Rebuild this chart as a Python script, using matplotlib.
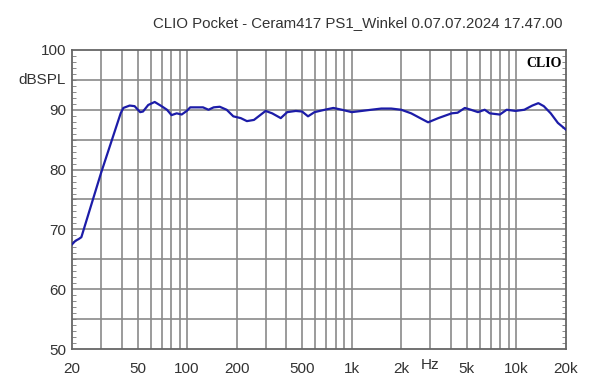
import matplotlib.pyplot as plt
import matplotlib.transforms as mtransforms
from matplotlib.ticker import FixedLocator, MultipleLocator, NullFormatter

# frequency response
freq = [20, 21, 22, 22.8, 30, 39.5, 41, 44.8, 48, 51.9, 54, 58.1, 63.6, 70, 75.5,
        80.5, 86.5, 92.7, 99.6, 104.5, 109.2, 125, 135, 145, 158, 174, 191, 212,
        231, 255, 300, 329, 371, 406, 458, 500, 543, 595, 687, 774, 872, 1001,
        1150, 1315, 1514, 1740, 2000, 2300, 2650, 2915, 3360, 4050, 4400, 4870,
        5300, 5860, 6430, 6910, 7950, 8750, 9900, 11200, 12520, 13620, 14700,
        16200, 17900, 19600, 20000]
spl = [67.5, 68.1, 68.4, 68.7, 79.4, 89.4, 90.3, 90.7, 90.6, 89.6, 89.7, 90.8, 91.3,
       90.6, 90.0, 89.1, 89.4, 89.2, 89.8, 90.4, 90.4, 90.4, 90.0, 90.4, 90.5,
       90.0, 88.9, 88.6, 88.1, 88.3, 89.8, 89.4, 88.6, 89.6, 89.8, 89.7, 88.9,
       89.6, 90.0, 90.3, 90.0, 89.6, 89.8, 90.0, 90.2, 90.2, 90.0, 89.4, 88.5,
       87.9, 88.6, 89.4, 89.5, 90.3, 90.0, 89.6, 90.0, 89.4, 89.2, 90.0, 89.8,
       90.0, 90.7, 91.1, 90.6, 89.4, 87.8, 86.9, 86.7]

x_ticks = [20, 50, 100, 200, 500, 1000, 2000, 5000, 10000, 20000]
x_labels = ['20', '50', '100', '200', '500', '1k', '2k', '5k', '10k', '20k']
y_ticks = [50, 60, 70, 80, 90, 100]

grid_freqs = [30, 40, 50, 60, 70, 80, 90, 100, 200, 300, 400, 500, 600, 700, 800,
              900, 1000, 2000, 3000, 4000, 5000, 6000, 7000, 8000, 9000, 10000]

plt.rcParams['font.family'] = ['Liberation Sans', 'DejaVu Sans']

fig = plt.figure(figsize=(6, 3.84), dpi=100)
ax = fig.add_axes([0.12, 0.091, 0.823, 0.779])

ax.set_xscale('log')
ax.set_xlim(20, 20000)
ax.set_ylim(50, 100)

for f in grid_freqs:
    ax.axvline(f, color='#8a8a8a', lw=1.2, zorder=1)
for y in range(55, 100, 5):
    ax.axhline(y, color='#8a8a8a', lw=1.2, zorder=1)

ax.plot(freq, spl, color='#1c1ca8', lw=1.6, zorder=3)

ax.xaxis.set_major_locator(FixedLocator(x_ticks))
ax.xaxis.set_minor_locator(FixedLocator([]))
ax.xaxis.set_minor_formatter(NullFormatter())
ax.set_xticklabels(x_labels)
ax.set_yticks(y_ticks)
ax.yaxis.set_minor_locator(MultipleLocator(1))
ax.tick_params(axis='both', which='major', length=0, labelsize=11, colors='#333333')
ax.tick_params(axis='x', which='major', pad=9)
ax.tick_params(axis='y', which='major', pad=4)
ax.tick_params(axis='y', which='minor', direction='in', length=3, left=True, right=True,
               color='#777777')

for s in ax.spines.values():
    s.set_color('#666666')
    s.set_linewidth(1.3)

ax.text(-0.012, 0.9, 'dBSPL', transform=ax.transAxes, ha='right', va='center',
        fontsize=11, color='#333333')
trans = mtransforms.blended_transform_factory(ax.transData, ax.transAxes)
ax.text(3000, -0.03, 'Hz', transform=trans, ha='center', va='top', fontsize=11,
        color='#333333')
ax.text(0.992, 0.975, 'CLIO', transform=ax.transAxes, ha='right', va='top',
        fontsize=10, fontweight='bold', family='Liberation Serif', color='black')

fig.text(0.937, 0.94, 'CLIO Pocket - Ceram417 PS1_Winkel 0.07.07.2024 17.47.00',
         ha='right', va='center', fontsize=10.8, color='#333333')

fig.savefig('out.png', dpi=100)
